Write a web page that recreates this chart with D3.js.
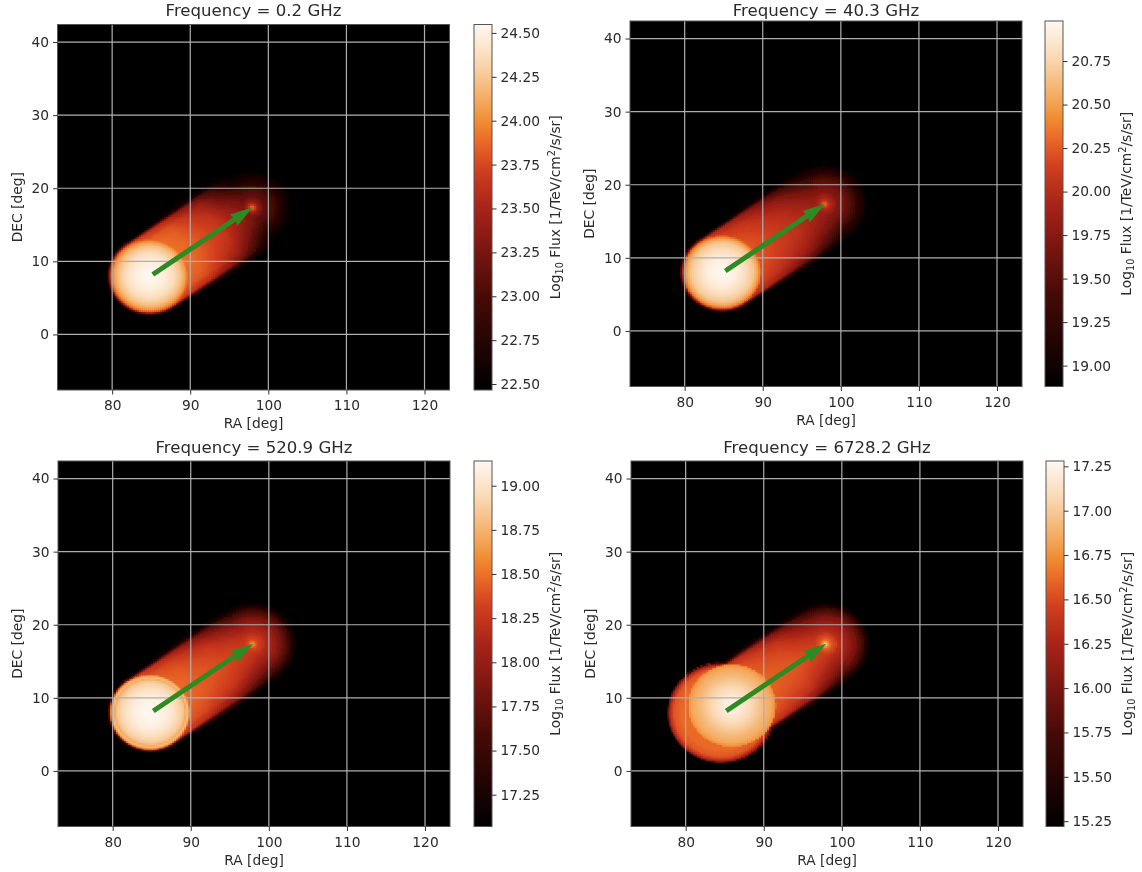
<!DOCTYPE html>
<html>
<head>
<meta charset="utf-8">
<script src="https://cdnjs.cloudflare.com/ajax/libs/d3/7.8.5/d3.min.js"></script>
<style>
  html, body { margin: 0; padding: 0; background: #fff; }
  svg { display: block; filter: blur(0.4px); }
  text { font-family: "DejaVu Sans", sans-serif; fill: #2b2b2b; }
</style>
</head>
<body>
<div id="chart"></div>
<script>
// values
const frequencies = ["0.2", "40.3", "520.9", "6728.2"];
const xTicks = [80, 90, 100, 110, 120];
const yTicks = [0, 10, 20, 30, 40];
const raDomain = [73, 123.2];
const decDomain = [-7.6, 42.4];

const fluxMin = [22.466, 18.88, 17.07, 15.22];
const fluxMax = [24.548, 20.98, 19.14, 17.28];
const barTicks = [
  [22.5, 22.75, 23, 23.25, 23.5, 23.75, 24, 24.25, 24.5],
  [19, 19.25, 19.5, 19.75, 20, 20.25, 20.5, 20.75],
  [17.25, 17.5, 17.75, 18, 18.25, 18.5, 18.75, 19],
  [15.25, 15.5, 15.75, 16, 16.25, 16.5, 16.75, 17, 17.25]
];

// colormap of the bars, bottom to top
const cmapPos = [0, 0.1, 0.25, 0.38, 0.5, 0.6, 0.68, 0.73, 0.8, 0.9, 1];
const cmapCol = ["#000000", "#1c0303", "#450a06", "#7a1510", "#a82418", "#d03e1e", "#ea6a28", "#f08a30", "#f4ae66", "#fad9b4", "#fff8f2"];

// pulsar arrow, RA/DEC
const arrowFrom = [85.2, 8.2];
const arrowTo = [98, 17.4];

// birth blob (radial profile, deg -> log flux)
const blobCentre = [[84.9, 8.1], [84.9, 8.1], [84.9, 8.1], [86, 9]];
const blobRadius = [
  [0, 1, 2, 3, 4, 4.6, 5, 5.15, 5.3],
  [0, 1, 2, 3, 4, 4.6, 5, 5.15, 5.3],
  [0, 1, 2, 3, 4, 4.3, 4.55, 4.8, 5, 5.15, 5.3],
  [0, 1, 2, 3, 4, 5, 5.4, 5.6, 5.7]
];
const blobFlux = [
  [24.54, 24.52, 24.47, 24.38, 24.22, 24.05, 23.8, 23.0, 22.47],
  [20.97, 20.95, 20.9, 20.8, 20.68, 20.5, 20.25, 19.2, 18.88],
  [19.13, 19.12, 19.08, 19.0, 18.88, 18.82, 18.7, 18.82, 18.62, 18.35, 17.07],
  [17.22, 17.2, 17.12, 17.03, 16.93, 16.85, 16.79, 16.74, 16.4]
];

// wider halo, only the last frequency shows it
const haloCentre = [84.6, 8];
const haloRadius = [0, 5, 6, 6.4, 6.7, 6.9];
const haloFlux = [16.62, 16.62, 16.55, 16.38, 16.1, 15.22];

// trail behind the pulsar: rows along the arrow, columns across it
const tubeAlong = [0, 6, 11, 16];
const tubeAcross = [0, 1, 2, 3, 4, 5, 5.5, 6];
const tubeFlux = [
  [[24.0, 24.0, 23.98, 23.95, 23.9, 23.75, 22.47, 22.47],
   [23.88, 23.88, 23.86, 23.84, 23.78, 23.55, 22.6, 22.47],
   [23.66, 23.66, 23.62, 23.55, 23.45, 23.2, 22.75, 22.47],
   [23.25, 23.18, 23.08, 22.9, 22.66, 22.5, 22.47, 22.47]],
  [[20.36, 20.36, 20.34, 20.3, 20.25, 20.1, 18.88, 18.88],
   [20.2, 20.2, 20.17, 20.13, 20.05, 19.85, 19.0, 18.88],
   [20.05, 20.03, 20.0, 19.93, 19.8, 19.5, 19.05, 18.88],
   [19.85, 19.8, 19.7, 19.55, 19.3, 19.05, 18.9, 18.88]],
  [[18.54, 18.54, 18.52, 18.5, 18.46, 18.34, 17.07, 17.07],
   [18.46, 18.46, 18.44, 18.4, 18.34, 18.14, 17.3, 17.07],
   [18.37, 18.35, 18.32, 18.26, 18.12, 17.85, 17.35, 17.07],
   [18.27, 18.22, 18.13, 17.98, 17.75, 17.4, 17.15, 17.07]],
  [[16.63, 16.63, 16.61, 16.59, 16.55, 16.45, 15.22, 15.22],
   [16.6, 16.6, 16.58, 16.55, 16.5, 16.35, 15.5, 15.22],
   [16.55, 16.53, 16.5, 16.45, 16.35, 16.1, 15.55, 15.22],
   [16.45, 16.4, 16.3, 16.15, 15.95, 15.6, 15.3, 15.22]]
];

// small bright spot at the pulsar itself
const spotRadius = [0, 0.3, 0.6, 1, 1.5];
const spotFlux = [
  [23.95, 23.75, 23.5, 23.3, 23.15],
  [20.4, 20.2, 20.0, 19.9, 19.8],
  [18.68, 18.5, 18.35, 18.28, 18.2],
  [17.1, 16.8, 16.6, 16.5, 16.42]
];

// page layout
const panels = [
  {x: 57.5, y: 24.5, barX: 474, titleY: 15.5},
  {x: 630, y: 21, barX: 1045, titleY: 15.5},
  {x: 58, y: 461, barX: 474, titleY: 452.5},
  {x: 631, y: 461, barX: 1046, titleY: 452.5}
];
const plotW = 392, plotH = 365.5, barW = 18;
const cellDeg = 0.25;
const cellOverlap = 1.2;  // rects overlap so no seams show between them
const labelSize = "13.8px";

const cmap = d3.scaleLinear().domain(cmapPos).range(cmapCol).interpolate(d3.interpolateRgb);

const svg = d3.select("#chart").append("svg")
    .attr("width", 1142)
    .attr("height", 872);

const defs = svg.append("defs");

defs.append("filter")
    .attr("id", "soft")
    .attr("x", "-5%").attr("y", "-5%").attr("width", "110%").attr("height", "110%")
  .append("feGaussianBlur")
    .attr("stdDeviation", 0.7);

const grad = defs.append("linearGradient")
    .attr("id", "barGrad")
    .attr("x1", 0).attr("y1", 1).attr("x2", 0).attr("y2", 0);
grad.selectAll("stop").data(cmapPos).join("stop")
    .attr("offset", d => d)
    .attr("stop-color", (d, i) => cmapCol[i]);

// log flux at one sky position of a panel
const fluxAt = (p, ra, dec) => {
    const dx = arrowTo[0] - blobCentre[0][0], dy = arrowTo[1] - blobCentre[0][1];
    const len = Math.hypot(dx, dy);
    const ux = dx / len, uy = dy / len;
    const rx = ra - blobCentre[0][0], ry = dec - blobCentre[0][1];
    const s = Math.max(0, Math.min(len, rx * ux + ry * uy));
    const across = Math.hypot(rx - s * ux, ry - s * uy);

    const rowVals = tubeFlux[p].map(row => d3.scaleLinear().domain(tubeAcross).range(row).clamp(true)(across));
    let v = d3.scaleLinear().domain(tubeAlong).range(rowVals).clamp(true)(s / len * 16);

    const radial = (c, rs, fs, floor) => {
        const r = Math.hypot(ra - c[0], dec - c[1]);
        return r > rs[rs.length - 1] ? floor : d3.scaleLinear().domain(rs).range(fs)(r);
    };
    v = Math.max(v, radial(blobCentre[p], blobRadius[p], blobFlux[p], fluxMin[p]));
    v = Math.max(v, radial(arrowTo, spotRadius, spotFlux[p], fluxMin[p]));
    if (p === 3) v = Math.max(v, radial(haloCentre, haloRadius, haloFlux, fluxMin[p]));
    return v;
};

panels.forEach((panel, p) => {
    const x = d3.scaleLinear().domain(raDomain).range([0, plotW]);
    const y = d3.scaleLinear().domain(decDomain).range([plotH, 0]);
    const norm = d3.scaleLinear().domain([fluxMin[p], fluxMax[p]]).range([0, 1]).clamp(true);

    const g = svg.append("g").attr("transform", `translate(${panel.x},${panel.y})`);

    defs.append("clipPath").attr("id", `clip-${p}`)
      .append("rect").attr("width", plotW).attr("height", plotH);

    g.append("rect")
        .attr("width", plotW)
        .attr("height", plotH)
        .attr("fill", "#000");

    // the image, one rect for each lit cell
    const cells = [];
    d3.range(raDomain[0], raDomain[1], cellDeg).forEach(ra => {
        d3.range(decDomain[0], decDomain[1], cellDeg).forEach(dec => {
            const v = fluxAt(p, ra + cellDeg / 2, dec + cellDeg / 2);
            if (v > fluxMin[p] + 0.01) cells.push({ra, dec, v});
        });
    });

    g.append("g")
        .attr("clip-path", `url(#clip-${p})`)
      .append("g")
        .attr("filter", "url(#soft)")
      .selectAll("rect")
      .data(cells)
      .join("rect")
        .attr("x", d => x(d.ra) - cellOverlap / 2)
        .attr("y", d => y(d.dec + cellDeg) - cellOverlap / 2)
        .attr("width", x(cellDeg) - x(0) + cellOverlap)
        .attr("height", y(0) - y(cellDeg) + cellOverlap)
        .attr("fill", d => cmap(norm(d.v)));

    // grid
    g.append("g").selectAll("line").data(xTicks).join("line")
        .attr("x1", d => x(d)).attr("x2", d => x(d))
        .attr("y1", 0).attr("y2", plotH)
        .attr("stroke", "#b0b0b0").attr("stroke-width", 1.2);
    g.append("g").selectAll("line").data(yTicks).join("line")
        .attr("x1", 0).attr("x2", plotW)
        .attr("y1", d => y(d)).attr("y2", d => y(d))
        .attr("stroke", "#b0b0b0").attr("stroke-width", 1.2);

    // arrow
    const x0 = x(arrowFrom[0]), y0 = y(arrowFrom[1]), x1 = x(arrowTo[0]), y1 = y(arrowTo[1]);
    const angle = Math.atan2(y1 - y0, x1 - x0) * 180 / Math.PI;
    const arrowLen = Math.hypot(x1 - x0, y1 - y0);
    const hl = 22, hw = 6.8, sw = 2.5;
    g.append("path")
        .attr("transform", `translate(${x0},${y0}) rotate(${angle})`)
        .attr("d", d3.line()([[0, -sw], [arrowLen - hl, -sw], [arrowLen - hl - 1, -hw], [arrowLen, 0], [arrowLen - hl - 1, hw], [arrowLen - hl, sw], [0, sw]]) + "Z")
        .attr("fill", "#2e8a22");

    // spines
    g.append("rect")
        .attr("width", plotW)
        .attr("height", plotH)
        .attr("fill", "none")
        .attr("stroke", "#555")
        .attr("stroke-width", 1);

    // axes
    const xAxis = g.append("g")
        .attr("transform", `translate(0,${plotH})`)
        .call(d3.axisBottom(x).tickValues(xTicks).tickSize(4.5).tickPadding(6).tickFormat(d3.format("d")));
    const yAxis = g.append("g")
        .call(d3.axisLeft(y).tickValues(yTicks).tickSize(4.5).tickPadding(4).tickFormat(d3.format("d")));
    [xAxis, yAxis].forEach(a => {
        a.select(".domain").remove();
        a.selectAll(".tick line").attr("stroke", "#333").attr("stroke-width", 1);
        a.selectAll("text").style("font-size", labelSize).attr("fill", "#2b2b2b");
    });

    g.append("text")
        .attr("x", plotW / 2)
        .attr("y", plotH + 38)
        .attr("text-anchor", "middle")
        .style("font-size", labelSize)
        .text("RA [deg]");

    g.append("text")
        .attr("transform", `translate(-36,${plotH / 2}) rotate(-90)`)
        .attr("text-anchor", "middle")
        .style("font-size", labelSize)
        .text("DEC [deg]");

    svg.append("text")
        .attr("x", panel.x + plotW / 2)
        .attr("y", panel.titleY)
        .attr("text-anchor", "middle")
        .style("font-size", "16.6px")
        .text(`Frequency = ${frequencies[p]} GHz`);

    // colour bar
    const bar = svg.append("g").attr("transform", `translate(${panel.barX},${panel.y})`);
    const b = d3.scaleLinear().domain([fluxMin[p], fluxMax[p]]).range([plotH, 0]);
    bar.append("rect")
        .attr("width", barW)
        .attr("height", plotH)
        .attr("fill", "url(#barGrad)")
        .attr("stroke", "#555")
        .attr("stroke-width", 1);
    const barAxis = bar.append("g")
        .attr("transform", `translate(${barW},0)`)
        .call(d3.axisRight(b).tickValues(barTicks[p]).tickSize(4.5).tickPadding(4).tickFormat(d3.format(".2f")));
    barAxis.select(".domain").remove();
    barAxis.selectAll(".tick line").attr("stroke", "#333").attr("stroke-width", 1);
    barAxis.selectAll("text").style("font-size", labelSize).attr("fill", "#2b2b2b");

    const barLabel = bar.append("text")
        .attr("transform", `translate(86,${plotH / 2}) rotate(-90)`)
        .attr("text-anchor", "middle")
        .style("font-size", labelSize);
    barLabel.append("tspan").text("Log");
    barLabel.append("tspan").attr("dy", 3).style("font-size", "9.7px").text("10");
    barLabel.append("tspan").attr("dy", -3).text(" Flux [1/TeV/cm");
    barLabel.append("tspan").attr("dy", -5).style("font-size", "9.7px").text("2");
    barLabel.append("tspan").attr("dy", 5).text("/s/sr]");
});
</script>
</body>
</html>
